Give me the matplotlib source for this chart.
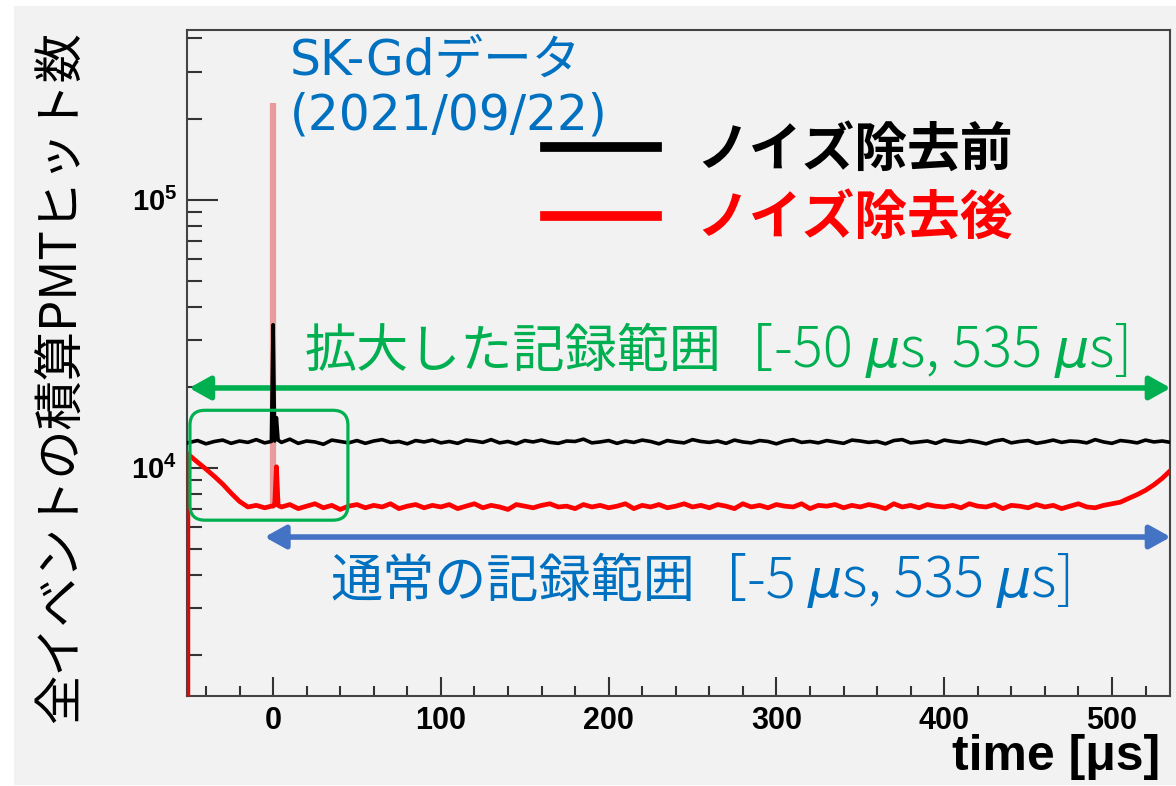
import numpy as np
import matplotlib
matplotlib.use("Agg")
import matplotlib.pyplot as plt
from matplotlib.lines import Line2D
from matplotlib.patches import FancyBboxPatch, Rectangle
from matplotlib.transforms import blended_transform_factory
from matplotlib.ticker import FixedLocator, FixedFormatter, LogLocator, MultipleLocator, NullFormatter

plt.rcParams['font.family'] = ['Noto Sans CJK JP', 'DejaVu Sans']
plt.rcParams['mathtext.fontset'] = 'custom'
plt.rcParams['mathtext.rm'] = 'Liberation Sans'
plt.rcParams['mathtext.bf'] = 'Liberation Sans:bold'

# 時間 [us]（ビン中心）
time_us = [-51, -45, -40, -35, -30, -25, -20, -15, -10, -5, -1, 0, 1, 2, 3,
           5, 10, 15, 20, 25, 30, 35, 40, 45, 50,
           55, 60, 65, 70, 75, 80, 85, 90, 95, 100,
           105, 110, 115, 120, 125, 130, 135, 140, 145, 150,
           155, 160, 165, 170, 175, 180, 185, 190, 195, 200,
           205, 210, 215, 220, 225, 230, 235, 240, 245, 250,
           255, 260, 265, 270, 275, 280, 285, 290, 295, 300,
           305, 310, 315, 320, 325, 330, 335, 340, 345, 350,
           355, 360, 365, 370, 375, 380, 385, 390, 395, 400,
           405, 410, 415, 420, 425, 430, 435, 440, 445, 450,
           455, 460, 465, 470, 475, 480, 485, 490, 495, 500,
           505, 510, 515, 520, 525, 530, 535]

# ノイズ除去前の積算ヒット数
hits_before = [12400, 12650, 12300, 12550, 12700, 12350, 12600, 12450, 12750, 12400,
               12550, 34200, 12600, 15400, 12700,
               12450, 12800, 12350, 12600, 12500, 12250, 12700, 12550, 12400, 12650,
               12350, 12600, 12750, 12450, 12550, 12300, 12650, 12500, 12700, 12400,
               12550, 12350, 12700, 12600, 12450, 12750, 12400, 12550, 12300, 12650,
               12500, 12700, 12450, 12350, 12600, 12550, 12800, 12400, 12500, 12650,
               12350, 12600, 12450, 12700, 12550, 12300, 12650, 12500, 12400, 12750,
               12550, 12450, 12600, 12350, 12700, 12500, 12400, 12650, 12550, 12300,
               12600, 12750, 12450, 12550, 12400, 12650, 12500, 12350, 12700, 12600,
               12450, 12550, 12300, 12650, 12750, 12400, 12500, 12600, 12350, 12700,
               12550, 12450, 12650, 12500, 12300, 12600, 12750, 12400, 12550, 12650,
               12350, 12500, 12700, 12450, 12600, 12550, 12400, 12750, 12500, 12350,
               12650, 12550, 12400, 12700, 12500, 12600, 12450]

# ノイズ除去後（t=0 のピークは別に描く）
hits_after = [11300, 10500, 9900, 9300, 8700, 8050, 7500, 7150, 7250, 7100,
              7200, 7200, 7300, 10100, 7250,
              7150, 7300, 7050, 7200, 7350, 7100, 7250, 7000, 7200, 7300,
              7100, 7250, 7150, 7350, 7050, 7200, 7300, 7100, 7250, 7150,
              7300, 7050, 7200, 7350, 7100, 7250, 7150, 7000, 7300, 7200,
              7100, 7250, 7350, 7150, 7200, 7050, 7300, 7150, 7250, 7100,
              7200, 7350, 7050, 7250, 7150, 7300, 7100, 7200, 7350, 7150,
              7250, 7100, 7300, 7200, 7050, 7350, 7150, 7250, 7100, 7300,
              7200, 7150, 7350, 7050, 7250, 7200, 7300, 7100, 7250, 7150,
              7300, 7200, 7050, 7350, 7150, 7250, 7100, 7300, 7200, 7150,
              7250, 7100, 7350, 7200, 7150, 7300, 7050, 7250, 7200, 7100,
              7300, 7150, 7250, 7050, 7200, 7350, 7150, 7100, 7250, 7350,
              7450, 7700, 7950, 8250, 8650, 9150, 9800]
peak_time = 0
peak_after = 230000

legend_labels = ['ノイズ除去前', 'ノイズ除去後']
ytick_vals = [1e4, 1e5]
ytick_labels = [r'$\mathbf{10^{4}}$', r'$\mathbf{10^{5}}$']

wide_range = (-50, 535)
normal_range = (-5, 535)

GREEN = '#00b050'
BLUE_TXT = '#0070c0'
BLUE_ARR = '#4472c4'

W, H = 1176, 786
fig = plt.figure(figsize=(W / 100, H / 100), dpi=100, facecolor='white')
fig.patches.append(Rectangle((14 / W, 1 / H), 1, 779 / H, transform=fig.transFigure,
                             facecolor='#f2f2f2', edgecolor='none', zorder=-10))
ax = fig.add_axes([187 / W, 90 / H, 983 / W, 666 / H])
ax.set_facecolor('#f2f2f2')

ax.set_yscale('log')
ax.set_xlim(-51.3, 534.6)
ax.set_ylim(1410, 4.3e5)

# ヒストグラム
ax.vlines(peak_time, hits_after[time_us.index(peak_time)], peak_after,
          color='#e99a9a', lw=4.5, zorder=2)
ax.plot(time_us, hits_after, color='#ff0000', lw=3.4, zorder=3)
ax.vlines(time_us[0], 1410, hits_after[0], color='#cc1010', lw=2.5, zorder=4, clip_on=False)
ax.plot(time_us, hits_before, color='black', lw=2.6, zorder=4)

# 軸
for sp in ax.spines.values():
    sp.set_color('#444444')
    sp.set_linewidth(1.5)
ax.yaxis.set_major_locator(FixedLocator(ytick_vals))
ax.yaxis.set_major_formatter(FixedFormatter(ytick_labels))
ax.yaxis.set_minor_locator(LogLocator(base=10, subs=range(2, 10)))
ax.yaxis.set_minor_formatter(NullFormatter())
ax.xaxis.set_major_locator(MultipleLocator(100))
ax.xaxis.set_minor_locator(MultipleLocator(20))
ax.tick_params(axis='y', which='major', direction='in', length=22, width=1.5,
               color='#333333', pad=7, labelsize=21)
ax.tick_params(axis='y', which='minor', direction='in', length=11, width=1.5, color='#333333')
ax.tick_params(axis='x', which='major', direction='in', length=14, width=1.5,
               color='#333333', pad=7, labelsize=22)
ax.tick_params(axis='x', which='minor', direction='in', length=7, width=1.5, color='#333333')
plt.setp(ax.get_xticklabels(), fontfamily='Liberation Sans', fontweight='bold')

fig.text(1160 / W, 1 - 757 / H, 'time [μs]', ha='right', va='center', fontsize=36,
         fontweight='bold', family='Liberation Sans')
fig.text(62 / W, 0.52, '全イベントの積算PMTヒット数', rotation=90, ha='center', va='center',
         fontsize=35.5)

# 凡例
handles = [Line2D([], [], color='black', lw=7), Line2D([], [], color='#ff0000', lw=7)]
ax.legend(handles, legend_labels, loc='upper left', bbox_to_anchor=(0.364, 0.86),
          frameon=False, handlelength=2.12, handletextpad=0.75, labelspacing=0.3,
          borderaxespad=0, borderpad=0, labelcolor='linecolor',
          prop={'size': 38, 'weight': 'bold'})

TITLE_FONT = ['DejaVu Sans', 'Noto Sans CJK JP']
fig.text(290 / W, 1 - 60 / H, 'SK-Gdデータ', color=BLUE_TXT, fontsize=35, va='center',
         family=TITLE_FONT)
fig.text(290 / W, 1 - 115 / H, '(2021/09/22)', color=BLUE_TXT, fontsize=35, va='center',
         family=TITLE_FONT)

# 記録範囲の矢印
trans = blended_transform_factory(ax.transData, ax.transAxes)
ax.annotate('', xy=(wide_range[0], 0.4625), xytext=(wide_range[1], 0.4625),
            xycoords=trans, textcoords=trans, annotation_clip=False,
            arrowprops=dict(arrowstyle='<|-|>,head_length=0.45,head_width=0.25',
                            mutation_scale=28, color=GREEN, lw=4, shrinkA=0, shrinkB=0))
ax.annotate('', xy=(normal_range[0], 0.2387), xytext=(normal_range[1], 0.2387),
            xycoords=trans, textcoords=trans, annotation_clip=False,
            arrowprops=dict(arrowstyle='<|-|>,head_length=0.45,head_width=0.25',
                            mutation_scale=28, color=BLUE_ARR, lw=4, shrinkA=0, shrinkB=0))

ax.add_patch(FancyBboxPatch((0.003, 0.264), 0.1607, 0.165, transform=ax.transAxes,
                            boxstyle='round,pad=0,rounding_size=0.0153',
                            mutation_aspect=983 / 666, fill=False,
                            edgecolor=GREEN, lw=2.3, zorder=6, clip_on=False))

renderer = fig.canvas.get_renderer()
MU = {'family': 'DejaVu Sans', 'style': 'italic', 'fontsize': 39}
LATIN = {'fontsize': 40.5, 'fontweight': 'light'}
CJK = {'fontsize': 37.5}


def range_label(x, y, label, lo, hi, color):
    parts = [(f'{label}［', CJK), (f'{lo} ', LATIN), ('μ', MU), (f's, {hi} ', LATIN),
             ('μ', MU), ('s]', LATIN)]
    for s, kw in parts:
        t = fig.text(x, y, s, color=color, va='baseline', ha='left', **kw)
        bb = t.get_window_extent(renderer)
        x = fig.transFigure.inverted().transform((bb.x1, 0))[0]


range_label(305 / W, 1 - 367 / H, '拡大した記録範囲', wide_range[0], wide_range[1], GREEN)
range_label(330 / W, 1 - 597 / H, '通常の記録範囲', normal_range[0], normal_range[1], BLUE_TXT)

fig.savefig('out.png', dpi=100, facecolor=fig.get_facecolor())
